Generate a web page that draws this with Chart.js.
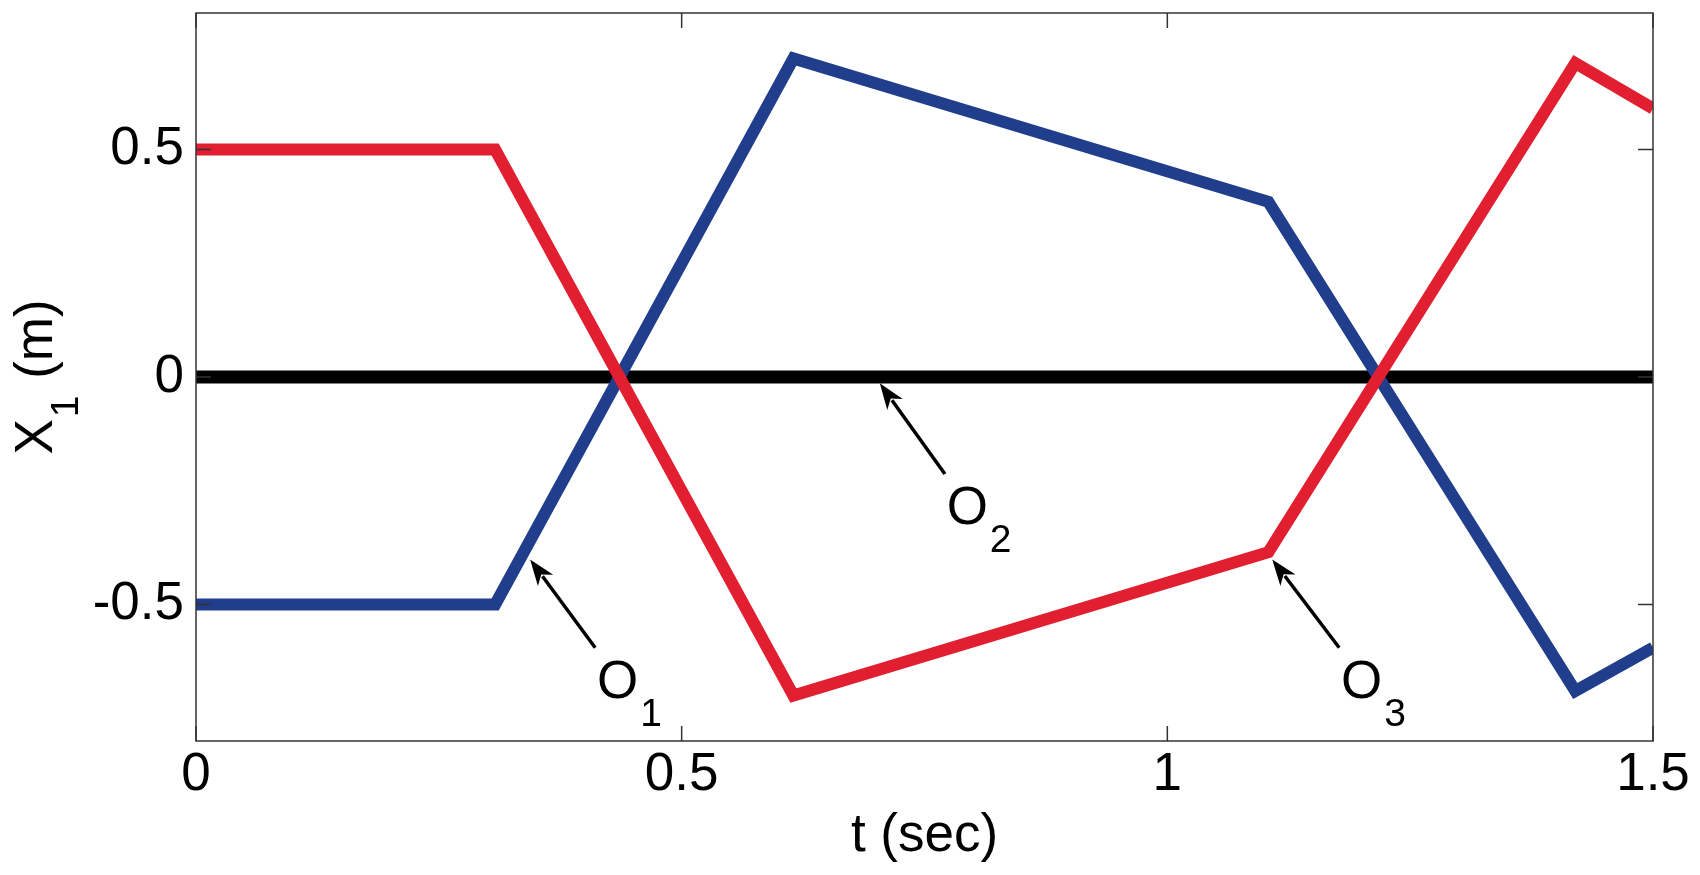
<!DOCTYPE html>
<html lang="en">
<head>
    <meta charset="UTF-8">
    <title>X1 vs t</title>
    <script src="https://cdn.jsdelivr.net/npm/chart.js"></script>
    <style>
        body { margin: 0; background: #fff; }
        #chart { display: block; }
    </style>
</head>
<body>
    <canvas id="chart" width="1700" height="875"></canvas>

    <script>
        // breakpoints
        const tValues = [0, 0.308, 0.615, 1.104, 1.420, 1.5];
        const redValues = [0.5, 0.5, -0.70, -0.385, 0.69, 0.59];
        const blueValues = [-0.5, -0.5, 0.70, 0.385, -0.69, -0.595];
        const zeroT = [0, 1.5];
        const zeroValues = [0, 0];

        const xTicks = [0, 0.5, 1, 1.5];
        const xTickLabels = ['0', '0.5', '1', '1.5'];
        const yTicks = [-0.5, 0, 0.5];
        const yTickLabels = ['-0.5', '0', '0.5'];

        // arrow tip, arrow tail, label (baseline centre of the O), subscript
        const notes = [
            { tip: [0.344, -0.401], tail: [0.411, -0.595], at: [0.434, -0.705], sub: '1' },
            { tip: [0.704, -0.014], tail: [0.771, -0.213], at: [0.794, -0.323], sub: '2' },
            { tip: [1.108, -0.401], tail: [1.177, -0.595], at: [1.200, -0.705], sub: '3' }
        ];

        const FONT = '"Liberation Sans", Arial, sans-serif';
        const toXY = (xs, ys) => xs.map((x, i) => ({ x: x, y: ys[i] }));

        const matlabBox = {
            id: 'matlabBox',
            afterDraw(chart) {
                const { ctx, chartArea: a, scales: { x, y } } = chart;
                ctx.save();

                // inner ticks on all four sides
                ctx.strokeStyle = '#333';
                ctx.lineWidth = 1.5;
                ctx.beginPath();
                xTicks.forEach(v => {
                    const px = x.getPixelForValue(v);
                    ctx.moveTo(px, a.bottom); ctx.lineTo(px, a.bottom - 15);
                    ctx.moveTo(px, a.top); ctx.lineTo(px, a.top + 15);
                });
                yTicks.forEach(v => {
                    const py = y.getPixelForValue(v);
                    ctx.moveTo(a.left, py); ctx.lineTo(a.left + 15, py);
                    ctx.moveTo(a.right, py); ctx.lineTo(a.right - 15, py);
                });
                ctx.stroke();
                ctx.strokeRect(a.left, a.top, a.right - a.left, a.bottom - a.top);

                // arrows + O labels
                ctx.fillStyle = '#000';
                ctx.strokeStyle = '#000';
                notes.forEach(n => {
                    const tx = x.getPixelForValue(n.tip[0]), ty = y.getPixelForValue(n.tip[1]);
                    const sx = x.getPixelForValue(n.tail[0]), sy = y.getPixelForValue(n.tail[1]);
                    const ang = Math.atan2(ty - sy, tx - sx);
                    const c = Math.cos(ang), s = Math.sin(ang);
                    const len = 26, half = 9.5;
                    ctx.lineWidth = 3.5;
                    ctx.beginPath();
                    ctx.moveTo(sx, sy);
                    ctx.lineTo(tx - c * len * 0.8, ty - s * len * 0.8);
                    ctx.stroke();
                    ctx.beginPath();
                    ctx.moveTo(tx, ty);
                    ctx.lineTo(tx - c * len - s * half, ty - s * len + c * half);
                    ctx.lineTo(tx - c * len * 0.72, ty - s * len * 0.72);
                    ctx.lineTo(tx - c * len + s * half, ty - s * len - c * half);
                    ctx.closePath();
                    ctx.fill();

                    const lx = x.getPixelForValue(n.at[0]), ly = y.getPixelForValue(n.at[1]);
                    ctx.font = '53px ' + FONT;
                    ctx.textAlign = 'center';
                    ctx.textBaseline = 'alphabetic';
                    ctx.fillText('O', lx, ly);
                    const w = ctx.measureText('O').width;
                    ctx.font = '39px ' + FONT;
                    ctx.textAlign = 'left';
                    ctx.fillText(n.sub, lx + w / 2 + 2, ly + 28);
                });

                // axis titles
                ctx.font = '53px ' + FONT;
                ctx.textAlign = 'center';
                ctx.textBaseline = 'middle';
                ctx.fillText('t (sec)', (a.left + a.right) / 2, 836);

                ctx.translate(52, (a.top + a.bottom) / 2);
                ctx.rotate(-Math.PI / 2);
                ctx.textBaseline = 'alphabetic';
                ctx.font = '53px ' + FONT;
                const wX = ctx.measureText('X').width;
                ctx.font = '39px ' + FONT;
                const w1 = ctx.measureText('1').width;
                ctx.font = '53px ' + FONT;
                const wRest = ctx.measureText(' (m)').width;
                let cx = -(wX + w1 + 4 + wRest) / 2;
                ctx.textAlign = 'left';
                ctx.fillText('X', cx, 0);
                cx += wX + 2;
                ctx.font = '39px ' + FONT;
                ctx.fillText('1', cx, 26);
                cx += w1 + 2;
                ctx.font = '53px ' + FONT;
                ctx.fillText(' (m)', cx, 0);

                ctx.restore();
            }
        };

        const line = (data, color, width) => ({
            data: data,
            borderColor: color,
            backgroundColor: color,
            borderWidth: width,
            pointRadius: 0,
            tension: 0,
            fill: false,
            borderJoinStyle: 'miter'
        });

        new Chart(document.getElementById('chart').getContext('2d'), {
            type: 'line',
            data: {
                datasets: [
                    line(toXY(tValues, redValues), '#e21f30', 12),
                    line(toXY(tValues, blueValues), '#213e8c', 12),
                    line(toXY(zeroT, zeroValues), '#000000', 13)
                ]
            },
            options: {
                responsive: false,
                animation: false,
                devicePixelRatio: 1,
                layout: { padding: { top: 13, right: 47, left: 0, bottom: 0 } },
                plugins: { legend: { display: false }, tooltip: { enabled: false } },
                scales: {
                    x: {
                        type: 'linear',
                        min: 0,
                        max: 1.5,
                        afterBuildTicks: s => { s.ticks = xTicks.map(v => ({ value: v })); },
                        afterFit: s => { s.height = 134; s.paddingLeft = 0; s.paddingRight = 0; },
                        grid: { display: false, drawTicks: false },
                        border: { display: false },
                        ticks: {
                            padding: 3,
                            color: '#000',
                            maxRotation: 0,
                            autoSkip: false,
                            font: { family: FONT, size: 53 },
                            callback: v => xTickLabels[xTicks.indexOf(v)]
                        }
                    },
                    y: {
                        type: 'linear',
                        min: -0.8,
                        max: 0.8,
                        afterBuildTicks: s => { s.ticks = yTicks.map(v => ({ value: v })); },
                        afterFit: s => { s.width = 196; s.paddingTop = 0; s.paddingBottom = 0; },
                        grid: { display: false, drawTicks: false },
                        border: { display: false },
                        ticks: {
                            padding: 12,
                            color: '#000',
                            autoSkip: false,
                            font: { family: FONT, size: 53 },
                            callback: v => yTickLabels[yTicks.indexOf(v)]
                        }
                    }
                }
            },
            plugins: [matlabBox]
        });
    </script>
</body>
</html>
